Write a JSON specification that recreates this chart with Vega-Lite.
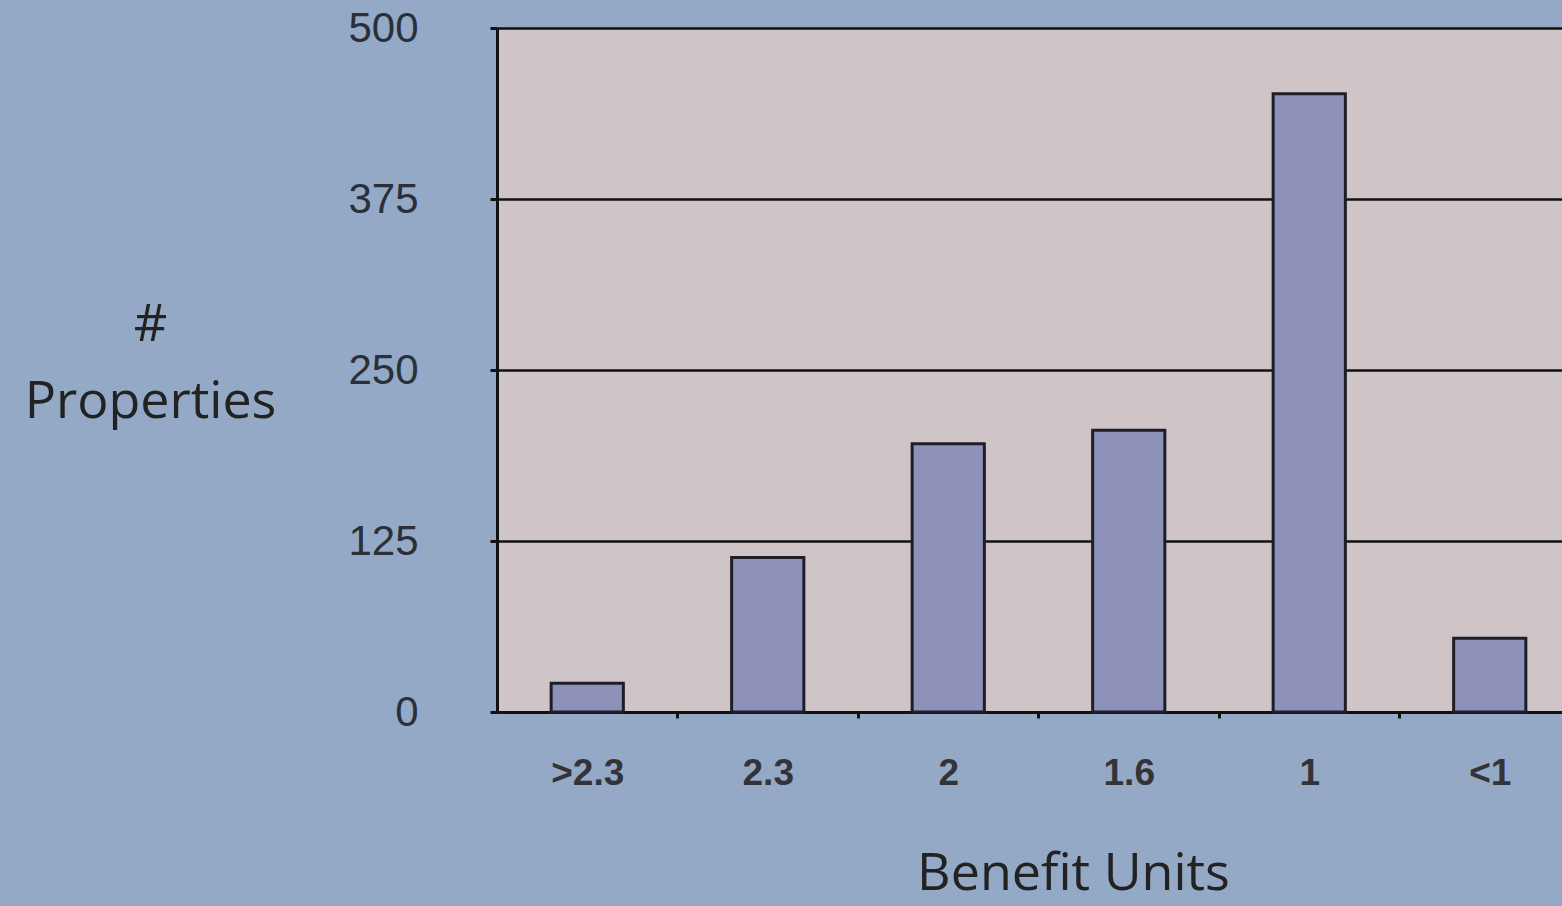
{
  "$schema": "https://vega.github.io/schema/vega-lite/v6.json",
  "autosize": {"type": "none"},
  "width": 1083,
  "height": 684,
  "padding": {"left": 497, "top": 28, "right": 0, "bottom": 194},
  "background": "#93a9c6",
  "data": {
    "values": [
      {"units": ">2.3", "count": 21},
      {"units": "2.3", "count": 113},
      {"units": "2", "count": 196},
      {"units": "1.6", "count": 206},
      {"units": "1", "count": 452},
      {"units": "<1", "count": 54}
    ]
  },
  "mark": {"type": "bar", "color": "#8e92bb", "stroke": "#1e1e28", "strokeWidth": 3},
  "encoding": {
    "x": {
      "field": "units",
      "type": "nominal",
      "sort": null,
      "scale": {"paddingInner": 0.6, "paddingOuter": 0.3},
      "axis": {
        "title": "Benefit Units",
        "labelAngle": 0,
        "labelFont": "Liberation Sans",
        "labelFontSize": 37,
        "labelFontWeight": "bold",
        "labelColor": "#333338",
        "labelPadding": 37,
        "tickOffset": 90,
        "labelOffset": -90,
        "tickColor": "#111",
        "tickWidth": 3,
        "tickSize": 6,
        "domainColor": "#111",
        "domainWidth": 3,
        "titleFont": "Open Sans",
        "titleFontSize": 52,
        "titleFontWeight": "normal",
        "titleColor": "#222",
        "titleX": 576,
        "titleY": 177,
        "titleBaseline": "alphabetic"
      }
    },
    "y": {
      "field": "count",
      "type": "quantitative",
      "scale": {"domain": [0, 500]},
      "axis": {
        "title": ["#", "Properties"],
        "values": [0, 125, 250, 375, 500],
        "labelFont": "Liberation Sans",
        "labelFontSize": 42,
        "labelColor": "#2a2f3a",
        "labelPadding": 72,
        "tickColor": "#111",
        "tickWidth": 3,
        "tickSize": 7,
        "domainColor": "#111",
        "domainWidth": 3,
        "grid": true,
        "gridColor": "#111",
        "gridWidth": 2.5,
        "gridOpacity": 1,
        "titleFont": "Open Sans",
        "titleFontSize": 52,
        "titleFontWeight": "normal",
        "titleColor": "#222",
        "titleAngle": 0,
        "titleAlign": "center",
        "titleX": -347,
        "titleY": 312,
        "titleBaseline": "alphabetic",
        "titleLineHeight": 77
      }
    }
  },
  "config": {
    "view": {"fill": "#cfc5c6", "stroke": null}
  }
}
